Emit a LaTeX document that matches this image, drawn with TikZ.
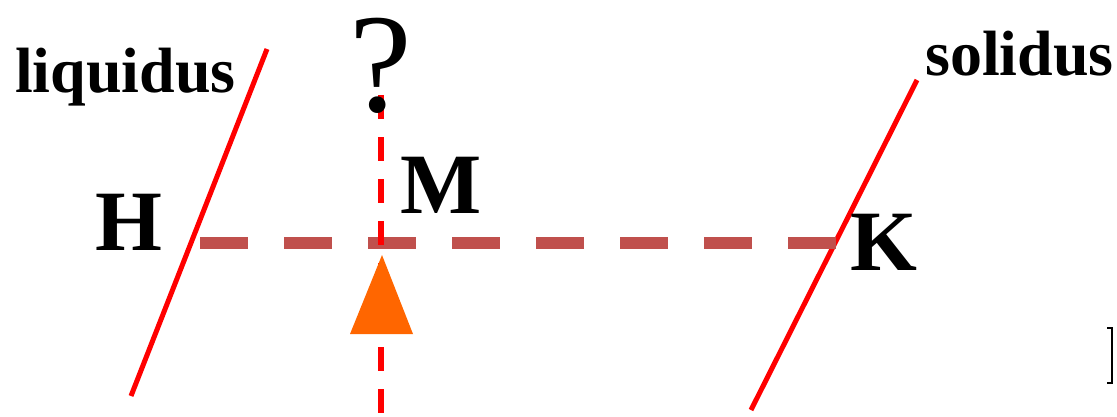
\documentclass[tikz,border=0pt]{standalone}
\usepackage{fontspec}
\setmainfont{Liberation Serif}
\usetikzlibrary{positioning}
\definecolor{tiered}{RGB}{192, 80, 77}
\definecolor{pointer}{RGB}{255, 102, 0}

\begin{document}
\begin{tikzpicture}[
    x=1pt, y=-1pt,
    boundary/.style={red, line width=5pt},
    tie/.style={tiered, line width=12pt, dash pattern=on 48pt off 36pt},
    probe/.style={red, line width=6pt, dash pattern=on 24pt off 18pt},
    curvelabel/.style={anchor=base west, inner sep=0pt, font=\fontsize{64}{64}\selectfont\bfseries},
    pointlabel/.style={anchor=base west, inner sep=0pt, font=\fontsize{86}{86}\selectfont\bfseries}
  ]
  \useasboundingbox (0,0) rectangle (1117,416);

  % Phase boundaries
  \coordinate (liqtop) at (267,49);
  \coordinate (liqbot) at (131,396);
  \coordinate (soltop) at (917,80);
  \coordinate (solbot) at (751,410);
  \draw[boundary] (liqbot) -- (liqtop);
  \draw[boundary] (solbot) -- (soltop);

  % Tie line H--K
  \coordinate (hend) at (200,243);
  \coordinate (kend) at (836,243);
  \draw[tie] (hend) -- (kend);

  % Overall composition
  \coordinate (mtop) at (381,95);
  \coordinate (mbot) at (381,416);
  \draw[probe] (mtop) -- (mbot);
  \fill[pointer] (382,255) -- (413,334) -- (350,334) -- cycle;

  % Labels
  \node[curvelabel] (liq) at (15,92) {liquidus};
  \node[curvelabel] (sol) at (925,75) {solidus};
  \node[pointlabel] (H) at (95,250) {H};
  \node[pointlabel] (M) at (400,213) {M};
  \node[pointlabel] (K) at (850,270) {K};
  \node[anchor=base, inner sep=0pt, font=\fontsize{141}{141}\selectfont] (q) at (381,111) {?};

  % cut-off bracket at the edge
  \draw[line width=2pt] (1107,328) -- (1112,328) -- (1112,383) -- (1107,383);

\end{tikzpicture}
\end{document}
